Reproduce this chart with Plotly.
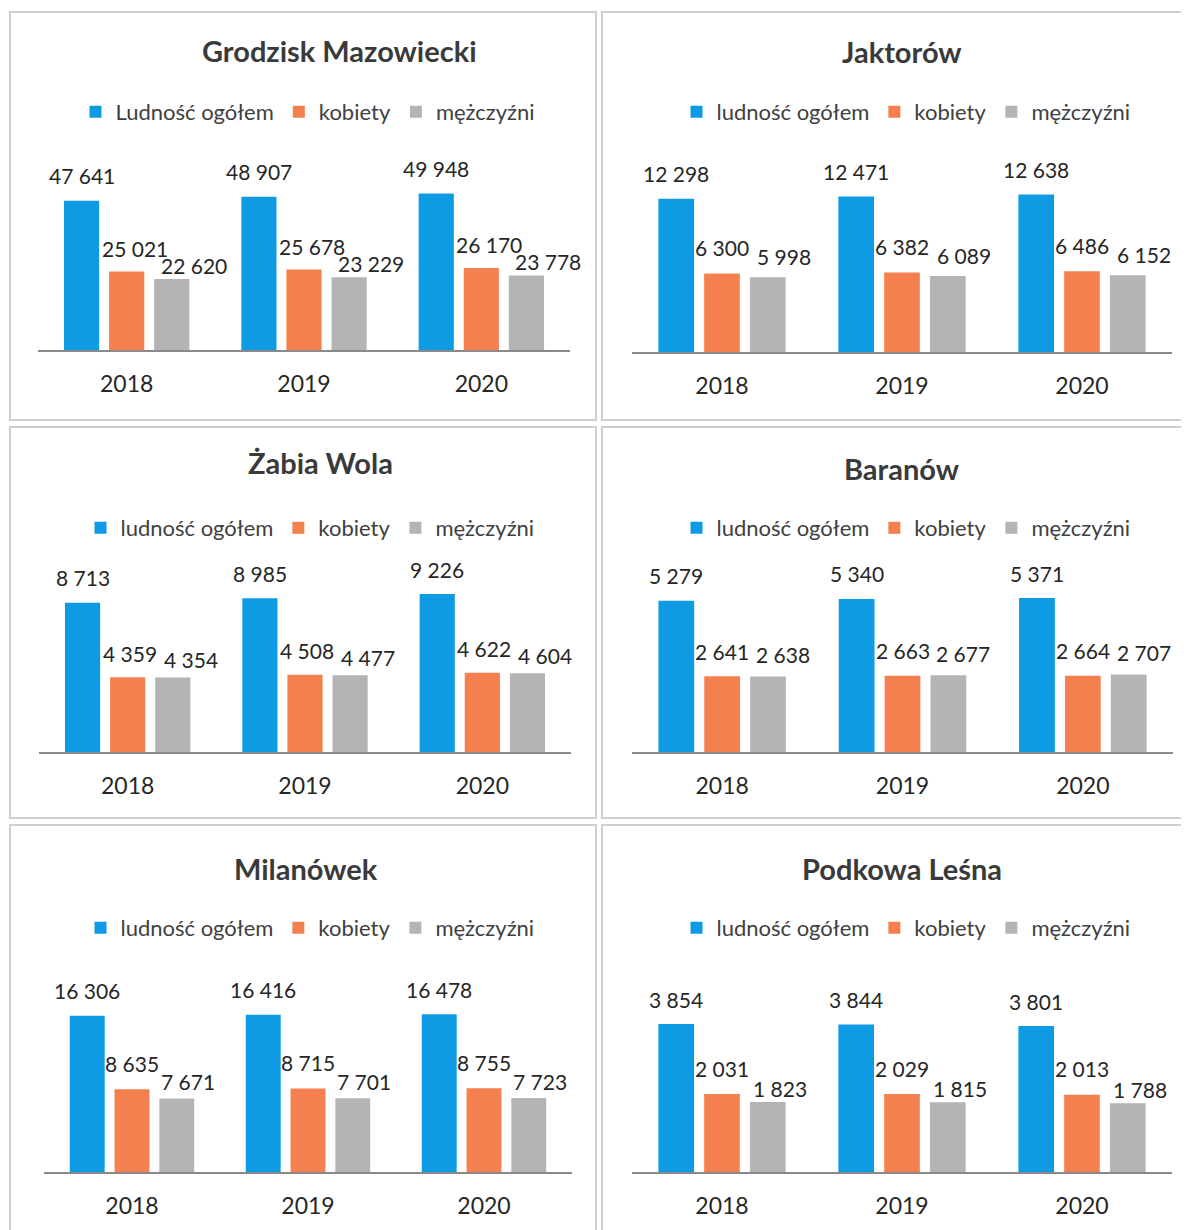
import plotly.graph_objects as go

# ---------------- data ----------------
years = ["2018", "2019", "2020"]
titles = ["Grodzisk Mazowiecki", "Jaktorów", "Żabia Wola", "Baranów", "Milanówek", "Podkowa Leśna"]
series_names_first = ["Ludność ogółem", "kobiety", "mężczyźni"]
series_names_other = ["ludność ogółem", "kobiety", "mężczyźni"]

grodzisk_total = [47641, 48907, 49948]
grodzisk_women = [25021, 25678, 26170]
grodzisk_men = [22620, 23229, 23778]

jaktorow_total = [12298, 12471, 12638]
jaktorow_women = [6300, 6382, 6486]
jaktorow_men = [5998, 6089, 6152]

zabia_total = [8713, 8985, 9226]
zabia_women = [4359, 4508, 4622]
zabia_men = [4354, 4477, 4604]

baranow_total = [5279, 5340, 5371]
baranow_women = [2641, 2663, 2664]
baranow_men = [2638, 2677, 2707]

milanowek_total = [16306, 16416, 16478]
milanowek_women = [8635, 8715, 8755]
milanowek_men = [7671, 7701, 7723]

podkowa_total = [3854, 3844, 3801]
podkowa_women = [2031, 2029, 2013]
podkowa_men = [1823, 1815, 1788]

# axis maxima (value axis, hidden)
y_axis_max = [63800, 16040, 11680, 6980, 20880, 5210]

panels_data = [
    (grodzisk_total, grodzisk_women, grodzisk_men),
    (jaktorow_total, jaktorow_women, jaktorow_men),
    (zabia_total, zabia_women, zabia_men),
    (baranow_total, baranow_women, baranow_men),
    (milanowek_total, milanowek_women, milanowek_men),
    (podkowa_total, podkowa_women, podkowa_men),
]

# ---------------- style / layout ----------------
OFF = 8                      # default page body margin
W, H = 1189 - OFF, 1230 - OFF
colors = ["#0f9be3", "#f5804f", "#b4b4b4"]
FONT = "Lato"
TXT = "#262626"

# panel geometry in page pixels (top-origin): plot x range, baseline y
plot_x = [(38, 570), (632, 1172), (39, 571), (632, 1173), (44, 572), (632, 1172)]
baseline = [350, 352, 752, 752, 1172, 1172]
plot_h = 200
title_pos = [(339, 50), (902, 52), (320, 462), (902, 468), (306, 868), (902, 868)]
legend_pos = [(308, 112), (906, 112), (310, 528), (906, 528), (310, 928), (906, 928)]
borders = [(10, 12, 596, 420), (602, 12, 1200, 420),
           (10, 427, 596, 818), (602, 427, 1200, 818),
           (10, 825, 596, 1240), (602, 825, 1200, 1240)]
# label offsets (dx, dy above bar top, px) per panel for [total, women, men]
label_off = [
    [(0, 25), (8, 23), (22, 14)],
    [(0, 25), (0, 26), (16, 21)],
    [(0, 25), (2, 24), (18, 18)],
    [(0, 25), (0, 25), (15, 22)],
    [(0, 25), (0, 26), (11, 17)],
    [(0, 25), (0, 26), (12, 14)],
]

BARGAP = 0.237
GROUPGAP = 0.22
slot = (1 - BARGAP) / 3


def px_x(v):
    return (v - OFF) / W


def px_y(v):
    return 1 - (v - OFF) / H


def fmt(v):
    return f"{v:,}".replace(",", " ")


fig = go.Figure()
annotations = []
shapes = []
layout_extra = {}

for p in range(6):
    ax = "" if p == 0 else str(p + 1)
    xref, yref = "x" + ax, "y" + ax
    leg = "legend" if p == 0 else "legend" + str(p + 1)
    names = series_names_first if p == 0 else series_names_other
    for k in range(3):
        fig.add_trace(go.Bar(
            x=years, y=panels_data[p][k], name=names[k],
            marker=dict(color=colors[k], line=dict(width=0)),
            xaxis=xref, yaxis=yref, legend=leg, showlegend=True,
            hoverinfo="skip",
        ))
        for i, v in enumerate(panels_data[p][k]):
            dx, dy = label_off[p][k]
            annotations.append(dict(
                x=i + (k - 1) * slot, y=v, xref=xref, yref=yref,
                text=fmt(v), showarrow=False, xanchor="center", yanchor="middle",
                xshift=dx, yshift=dy,
                font=dict(family=FONT, size=21, color=TXT),
            ))
    x0, x1 = plot_x[p]
    b = baseline[p]
    layout_extra["xaxis" + ax] = dict(
        domain=[px_x(x0), px_x(x1)], anchor=yref, type="category",
        range=[-0.5, 2.5], showline=True, linecolor="#8a8a8a", linewidth=1.5,
        showgrid=False, zeroline=False, ticks="", ticklabelstandoff=13,
        tickfont=dict(family=FONT, size=23, color=TXT), fixedrange=True,
    )
    layout_extra["yaxis" + ax] = dict(
        domain=[px_y(b), px_y(b - plot_h)], anchor=xref,
        range=[0, y_axis_max[p]], visible=False, showgrid=False, zeroline=False,
    )
    lx, ly = legend_pos[p]
    layout_extra[leg] = dict(
        x=px_x(lx), y=px_y(ly), xanchor="center", yanchor="middle",
        orientation="h", font=dict(family=FONT, size=22, color="#404040"),
        bgcolor="rgba(0,0,0,0)", itemclick=False, itemdoubleclick=False,
        tracegroupgap=0, itemwidth=30,
    )
    tx, ty = title_pos[p]
    annotations.append(dict(
        x=px_x(tx), y=px_y(ty), xref="paper", yref="paper", text="<b>" + titles[p] + "</b>",
        showarrow=False, xanchor="center", yanchor="middle",
        font=dict(family=FONT, size=29, color="#3a3a3a"),
    ))
    bx0, by0, bx1, by1 = borders[p]
    shapes.append(dict(
        type="rect", xref="paper", yref="paper",
        x0=px_x(bx0), x1=px_x(bx1), y0=px_y(by1), y1=px_y(by0),
        line=dict(color="#cfcfcf", width=2), fillcolor="rgba(0,0,0,0)", layer="below",
    ))

fig.update_layout(
    width=W, height=H, margin=dict(l=0, r=0, t=0, b=0),
    paper_bgcolor="white", plot_bgcolor="white",
    barmode="group", bargap=BARGAP, bargroupgap=GROUPGAP,
    annotations=annotations, shapes=shapes,
    font=dict(family=FONT, color=TXT),
    **layout_extra,
)

fig.write_html("out.html")
